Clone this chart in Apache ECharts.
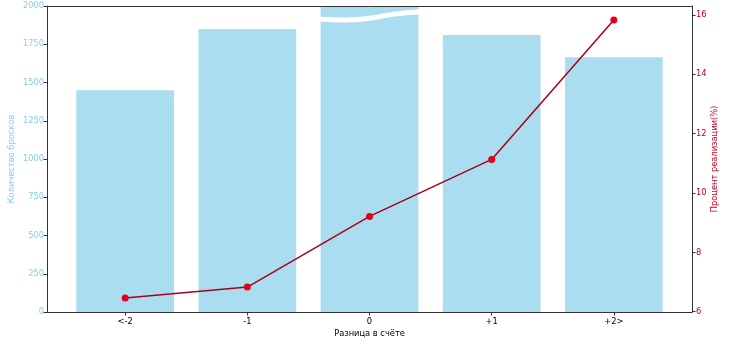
<!DOCTYPE html>
<html><head><meta charset="utf-8">
<script src="https://cdn.jsdelivr.net/npm/echarts@6/dist/echarts.min.js"></script>
<style>html,body{margin:0;padding:0;background:#fff}#c{width:730px;height:348px}</style>
</head><body><div id="c"></div>
<script>
const categories = ['<-2', '-1', '0', '+1', '+2>'];
const shots = [1450, 1850, 2300, 1810, 1665];
const pct = [6.46, 6.83, 9.21, 11.13, 15.83];
const leftTicks = [0, 250, 500, 750, 1000, 1250, 1500, 1750, 2000];
const rightTicks = [6, 8, 10, 12, 14, 16];
const catPositions = [0, 1, 2, 3, 4];
// break marker on the clipped bar, in data coordinates (category offset, shots)
const breakWave = [[-0.42, 1915], [-0.2, 1909], [0, 1920], [0.2, 1947], [0.42, 1962]];

const FONT = 'DejaVu Sans';
const SKY = '#87CEEB';
const RED = '#c0001f';
const AX = '#333';

const chart = echarts.init(document.getElementById('c'), null, {renderer: 'canvas'});
chart.setOption({
  animation: false,
  backgroundColor: '#fff',
  grid: {left: 47, right: 38, top: 6, bottom: 36, containLabel: false, outerBoundsMode: 'none'},
  xAxis: [{
    type: 'value', min: -0.64, max: 4.64, z: 10,
    axisLine: {show: true, onZero: false, lineStyle: {color: AX, width: 1}},
    axisTick: {show: true, length: 3.5, customValues: catPositions, lineStyle: {color: AX}},
    axisLabel: {show: true, customValues: catPositions, margin: 6, color: '#000', fontFamily: FONT, fontSize: 8.3,
      formatter: v => categories[Math.round(v)]},
    splitLine: {show: false},
    name: 'Разница в счёте', nameLocation: 'middle', nameGap: 18, nameMoveOverlap: false,
    nameTextStyle: {color: '#000', fontFamily: FONT, fontSize: 8.3}
  }, {
    type: 'value', min: -0.64, max: 4.64, position: 'top', z: 10,
    axisLine: {show: true, onZero: false, lineStyle: {color: AX, width: 1}},
    axisTick: {show: false}, axisLabel: {show: false}, splitLine: {show: false}
  }],
  yAxis: [{
    type: 'value', min: 0, max: 2000, position: 'left', z: 10,
    axisLine: {show: true, onZero: false, lineStyle: {color: AX, width: 1}},
    axisTick: {show: true, length: 3.5, customValues: leftTicks, lineStyle: {color: AX}},
    axisLabel: {customValues: leftTicks, color: SKY, fontFamily: FONT, fontSize: 8.3, margin: 3,
      formatter: v => String(v)},
    splitLine: {show: false},
    name: 'Количество бросков', nameLocation: 'middle', nameGap: 31, nameMoveOverlap: false,
    nameTextStyle: {color: SKY, fontFamily: FONT, fontSize: 8.3}
  }, {
    type: 'value', min: 5.99, max: 16.3, position: 'right', z: 10, alignTicks: false,
    axisLine: {show: true, onZero: false, lineStyle: {color: AX, width: 1}},
    axisTick: {show: true, length: 3.5, customValues: rightTicks, lineStyle: {color: AX}},
    axisLabel: {customValues: rightTicks, color: RED, fontFamily: FONT, fontSize: 8.3, margin: 4,
      formatter: v => String(v)},
    splitLine: {show: false},
    name: 'Процент реализации(%)', nameLocation: 'middle', nameGap: 19, nameRotate: 90, nameMoveOverlap: false,
    nameTextStyle: {color: RED, fontFamily: FONT, fontSize: 8.3}
  }],
  series: [{
    type: 'bar', xAxisIndex: 0, yAxisIndex: 0, barWidth: '80%', clip: true, z: 2,
    itemStyle: {color: 'rgba(135,206,235,0.7)'},
    data: shots.map((v, i) => [catPositions[i], v])
  }, {
    type: 'line', xAxisIndex: 0, yAxisIndex: 0, smooth: 0.5, symbol: 'none', z: 3, silent: true,
    lineStyle: {color: '#fff', width: 5},
    data: breakWave.map(p => [catPositions[2] + p[0], p[1]])
  }, {
    type: 'line', xAxisIndex: 0, yAxisIndex: 1, z: 4,
    symbol: 'circle', symbolSize: 7,
    itemStyle: {color: '#e3001b'},
    lineStyle: {color: '#a8001a', width: 1.5},
    data: pct.map((v, i) => [catPositions[i], v])
  }]
});
</script></body></html>
